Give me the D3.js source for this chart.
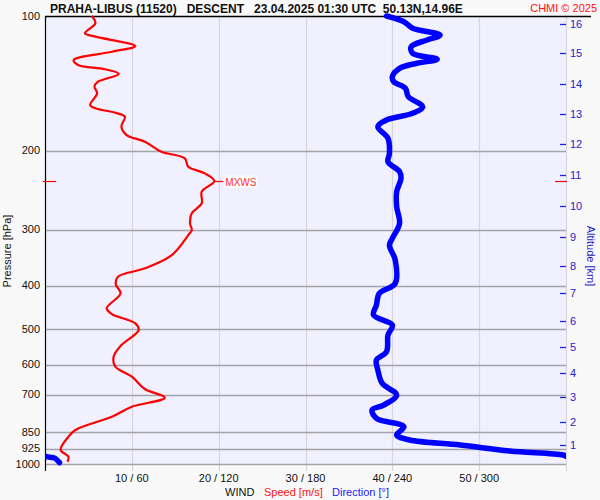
<!DOCTYPE html>
<html><head><meta charset="utf-8">
<script src="https://cdn.jsdelivr.net/npm/d3@7"></script>
<style>body{margin:0;background:#f9f9f9;} svg{display:block;font-family:Arial,"Liberation Sans",sans-serif;}</style>
</head><body><svg id="c" width="600" height="500"></svg>
<script>
// ---- data ----
const pressureTicks = [100,200,300,400,500,600,700,850,925,1000];
const xTickSpeed = [10,20,30,40,50];
const xTickLabels = ["10 / 60","20 / 120","30 / 180","40 / 240","50 / 300"];
const altKm = [1,2,3,4,5,6,7,8,9,10,11,12,13,14,15,16];
const altP  = [906,804,707,625,548,479,416,361,312,266,226.5,193,165.5,142,121,104];
// wind speed profile (pressure hPa, speed m/s)
const speedP = [100,103.8,109.3,111.2,116.7,120.2,125.4,128.6,131.5,134.7,140.2,143.8,148.8,158.0,160.7,164.4,167.8,176.6,184.4,190.8,200.9,207.8,217,224.5,233.5,246.7,261.8,275.7,290.2,300.5,308.3,341.7,365.8,381.9,397.1,415.9,449.3,462.7,485.3,502.3,542.6,576.2,606.6,638.6,680.1,711.2,744.9,784.2,839.7,869.2,930.6,963.2,988.3];
const speedV = [5.4,5.8,4.6,5.8,10.4,7.7,3.3,3.8,6.9,8.5,6.1,5.7,6.0,5.2,5.8,8.1,9.2,8.8,9.4,11.5,13.4,16.1,16.5,18.4,19.5,18.05,18.05,16.9,16.7,16.9,16.5,14.6,11.5,8.4,8.15,8.7,7.1,7.7,10.4,10.8,8.8,7.9,8.1,10.0,11.5,13.8,10.0,7.7,3.5,2.7,1.8,2.7,2.6];
// wind direction profile (pressure hPa, direction deg)
const dirP = [100,103.0,106.5,110.3,113.1,117.1,121.1,124.9,127.5,130.9,136.6,140.2,145.0,151.4,159.4,164.9,170.7,176.6,187.5,202.6,211.5,222.6,230.3,246.7,266.5,290.2,313.6,324.6,350.5,395.2,415.9,441.7,465.0,489.5,515.4,561.6,586.1,617.0,660.5,701.5,738.5,757.7,790.7,825.5,861.6,884.0,907.1,935.5,954.9,963.2,971.2,993.3];
const dirV = [236,248,254,273,264,253,254,271,257,245,240,241,249,251,261,254,236,230,237,238,237,245,246,243,243,245,240,238,242,242,231,229,227,240,237,236,229,230,233,243,234,226,229,248,243,252,287,321,358,1,7,10];
const maxWindP = 233.5;
const titleText = "PRAHA-LIBUS (11520)   DESCENT   23.04.2025 01:30 UTC  50.13N,14.96E";

// ---- chart ----
const svg = d3.select("#c");
const L=45, R=566, T=16, B=464;
const y = d3.scaleLog().domain([100,1000]).range([T,B]);
const xs = d3.scaleLinear().domain([0,60]).range([L,R]);
const xd = d3.scaleLinear().domain([0,360]).range([L,R]);

svg.append("rect").attr("x",L).attr("y",T).attr("width",R-L).attr("height",B-T+1).attr("fill","#f0f0ff");

// vertical grid
svg.append("g").selectAll("line").data(xTickSpeed.concat([60])).join("line")
  .attr("x1",d=>Math.round(xs(d))+0.5).attr("x2",d=>Math.round(xs(d))+0.5)
  .attr("y1",T).attr("y2",B+7).attr("stroke","#d6d6dc").attr("stroke-width",1.2);
// horizontal grid
svg.append("g").selectAll("line").data(pressureTicks.slice(1)).join("line")
  .attr("x1",L).attr("x2",R).attr("y1",d=>Math.round(y(d))+0.5).attr("y2",d=>Math.round(y(d))+0.5)
  .attr("stroke","#a4a4a8").attr("stroke-width",1.3);

// left axis + top line
svg.append("line").attr("x1",L+0.5).attr("x2",L+0.5).attr("y1",T).attr("y2",B+7).attr("stroke","#000").attr("stroke-width",1.2);
svg.append("line").attr("x1",L).attr("x2",591).attr("y1",T+0.5).attr("y2",T+0.5).attr("stroke","#000").attr("stroke-width",1.3);

// pressure labels
svg.append("g").selectAll("text").data(pressureTicks).join("text")
  .attr("x",40).attr("y",d=>y(d)+3.5).attr("text-anchor","end").attr("font-size",11).attr("fill","#111").text(d=>d);
svg.append("text").attr("transform","translate(11,251) rotate(-90)").attr("text-anchor","middle")
  .attr("font-size",11).attr("fill","#111").text("Pressure [hPa]");

// x tick labels
svg.append("g").selectAll("text").data(xTickSpeed).join("text")
  .attr("x",d=>xs(d)).attr("y",482).attr("text-anchor","middle").attr("font-size",11).attr("fill","#111")
  .text((d,i)=>xTickLabels[i]);
const leg = svg.append("text").attr("y",496).attr("font-size",11);
leg.append("tspan").attr("x",225).attr("fill","#111").text("WIND");
leg.append("tspan").attr("x",264).attr("fill","#ff1010").text("Speed [m/s]");
leg.append("tspan").attr("x",332).attr("fill","#1a1aff").text("Direction [°]");

// altitude axis
svg.append("g").selectAll("line").data(altP).join("line")
  .attr("x1",560).attr("x2",566).attr("y1",d=>Math.round(y(d))+0.5).attr("y2",d=>Math.round(y(d))+0.5)
  .attr("stroke","#2020e0").attr("stroke-width",1.3);
svg.append("g").selectAll("text").data(altP).join("text")
  .attr("x",570).attr("y",d=>y(d)+4).attr("font-size",11).attr("fill","#2222cc").text((d,i)=>altKm[i]);
svg.append("text").attr("transform","translate(587,256) rotate(90)").attr("text-anchor","middle")
  .attr("font-size",11).attr("fill","#2222cc").text("Altitude [km]");

// clip
svg.append("clipPath").attr("id","clp").append("rect").attr("x",L).attr("y",0).attr("width",R-L).attr("height",480);

// direction (unwrapped, drawn twice to handle wrap)
let un=[], off=0;
dirV.forEach((d,i)=>{ if(i>0){ const prev=dirV[i-1]; if(d-prev< -180) off+=360; if(d-prev>180) off-=360;} un.push(d+off); });
const dirLine = shift => d3.line().curve(d3.curveCatmullRom.alpha(0.5))
  .x((d,i)=>xd(un[i]-shift)).y((d,i)=>y(dirP[i]))(dirP);
const gd = svg.append("g").attr("clip-path","url(#clp)");
[0,360].forEach(s=>gd.append("path").attr("d",dirLine(s)).attr("fill","none").attr("stroke","#0000ff")
  .attr("stroke-width",5.5).attr("stroke-linejoin","round").attr("stroke-linecap","round"));

// speed
const spLine = d3.line().curve(d3.curveCatmullRom.alpha(0.5)).x((d,i)=>xs(speedV[i])).y(d=>y(d));
svg.append("path").attr("d",spLine(speedP)).attr("fill","none").attr("stroke","#ff0000").attr("stroke-width",2.2).attr("stroke-linejoin","round");

// max wind / tropopause markers
const ym = Math.round(y(maxWindP))+0.5;
svg.append("line").attr("x1",43).attr("x2",56).attr("y1",ym).attr("y2",ym).attr("stroke","#ff0000").attr("stroke-width",1.2);
svg.append("line").attr("x1",555).attr("x2",567).attr("y1",ym).attr("y2",ym).attr("stroke","#ff0000").attr("stroke-width",1.2);
const mxI = speedV.indexOf(d3.max(speedV));
svg.append("line").attr("x1",xs(speedV[mxI])).attr("x2",xs(speedV[mxI])+9).attr("y1",ym).attr("y2",ym).attr("stroke","#ff0000").attr("stroke-width",1.2);
svg.append("rect").attr("x",xs(speedV[mxI])+10).attr("y",ym-6).attr("width",33).attr("height",12).attr("fill","#ffffff").attr("opacity",0.8);
svg.append("text").attr("x",xs(speedV[mxI])+11).attr("y",ym+4).attr("font-size",10).attr("fill","#ff3030").text("MXWS");

// title
svg.append("text").attr("x",50).attr("y",13).attr("font-size",12).attr("font-weight","bold").attr("fill","#111")
  .style("white-space","pre").text(titleText);
svg.append("text").attr("x",597).attr("y",12).attr("text-anchor","end").attr("font-size",11).attr("fill","#ff1010").text("CHMI © 2025");
</script></body></html>
